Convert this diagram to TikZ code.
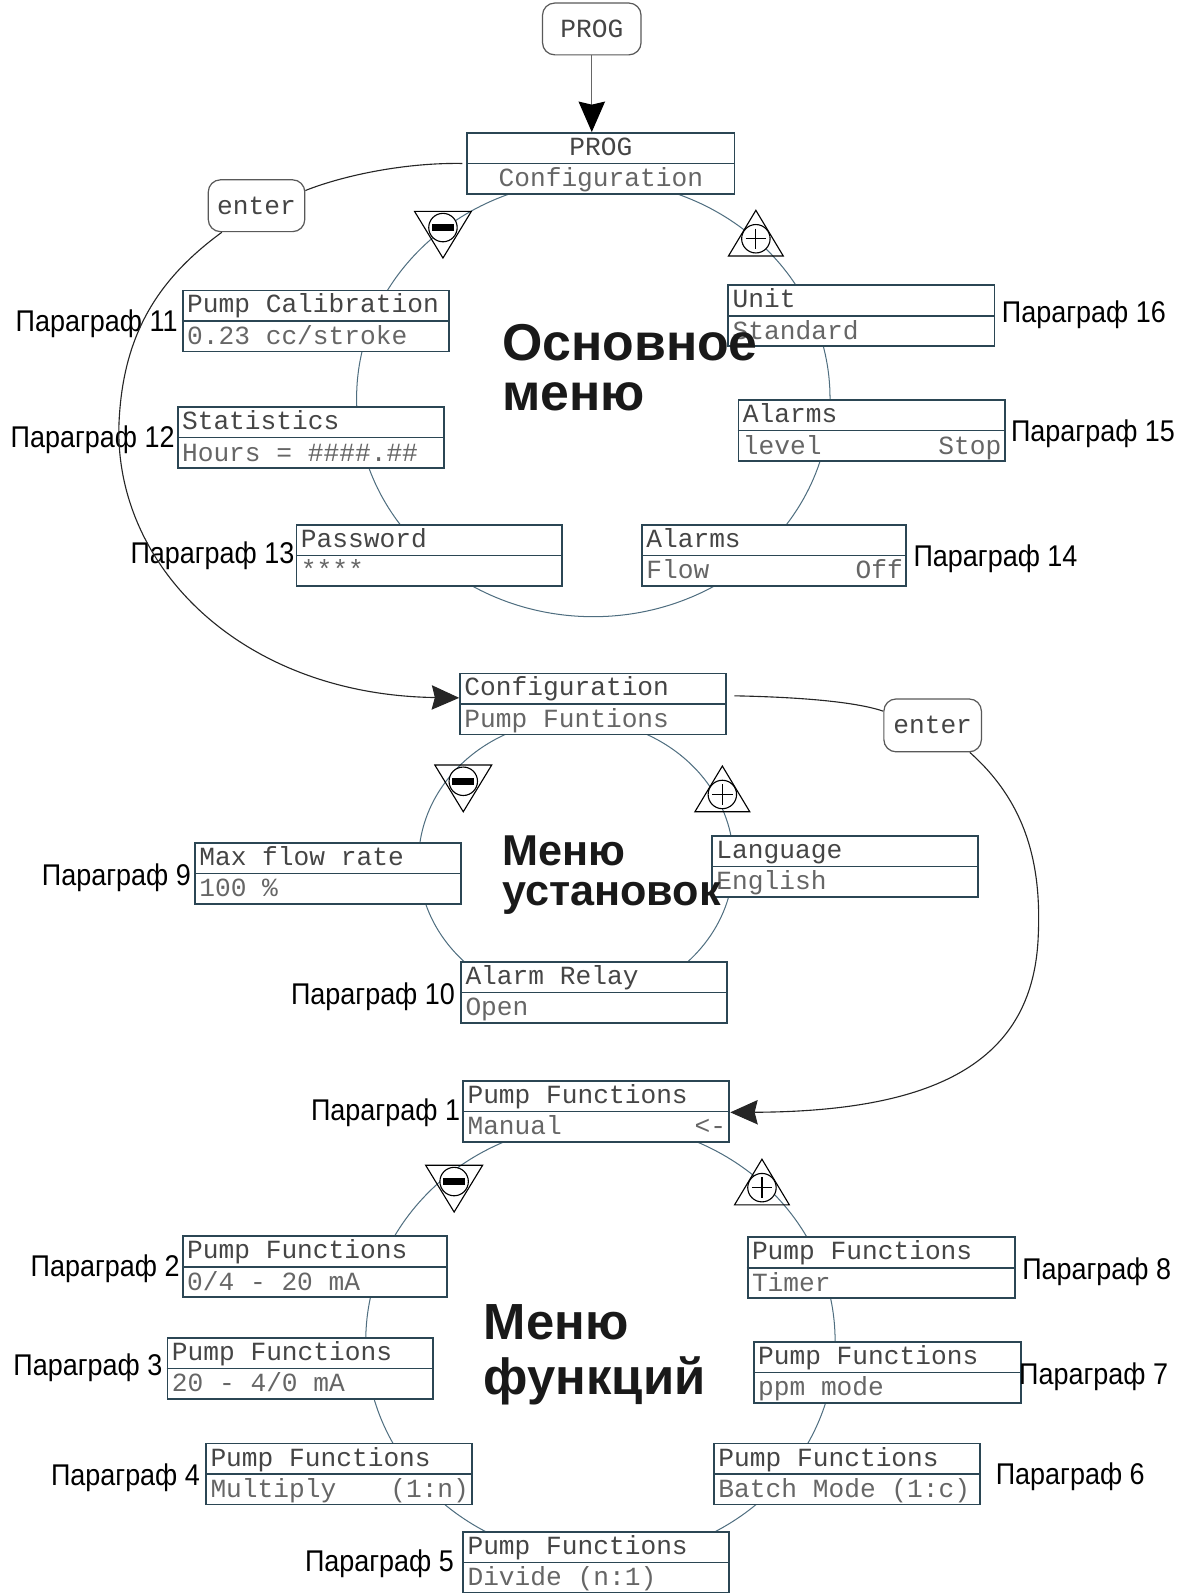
\documentclass[tikz,border=0pt]{standalone}
\usepackage{fontspec}
\setmainfont{Liberation Sans}
\newfontfamily\lcdfont{Liberation Mono}
\usetikzlibrary{arrows.meta,calc}
\definecolor{boxc}{HTML}{2B4654}
\definecolor{ringc}{HTML}{4F6E80}
\definecolor{txta}{HTML}{454545}
\definecolor{txtb}{HTML}{666666}
\tikzset{
  lcd/.style={draw=boxc, line width=1.8pt, fill=white, minimum height=60pt, inner sep=0pt, rectangle},
  lcddiv/.style={draw=boxc, line width=1.4pt},
  lcdtxt/.style={font=\lcdfont\fontsize{25.8}{26}\selectfont, inner sep=0pt},
  ring/.style={draw=ringc, line width=1pt},
  lbl/.style={font=\fontsize{29.5}{30}\selectfont, inner sep=0pt},
  bigtitle/.style={font=\bfseries\fontsize{51}{51}\selectfont, inner sep=0pt, text=black!90},
  midtitle/.style={font=\bfseries\fontsize{42.5}{43}\selectfont, inner sep=0pt, text=black!90},
  btmtitle/.style={font=\bfseries\fontsize{50}{50}\selectfont, inner sep=0pt, text=black!90},
  btn/.style={draw=black!65, line width=1.2pt, rounded corners=12pt, fill=white, inner sep=0pt,
    font=\lcdfont\fontsize{25.8}{26}\selectfont, text=txta},
  conn/.style={draw=black!85, line width=1.1pt},
  symline/.style={draw=black, line width=1.1pt},
  bigtip/.style={-{Stealth[length=27pt,width=24pt,inset=3pt]}}
}
\newcommand\lcdbox[7]{%
  \node[lcd, minimum width=#4pt, anchor=north west] (#1) at (#2,#3) {};
  \draw[lcddiv] (#1.west) -- (#1.east);
  \node[lcdtxt, text=txta, anchor=base west] at ($(#1.north west)+(5,23)$) {#5};
  \node[lcdtxt, text=txtb, anchor=base west] at ($(#1.west)+(5,23)$) {#6};
  \node[lcdtxt, text=txtb, anchor=base east] at ($(#1.east)+(-4,23)$) {#7};
}
\newcommand\minusbtn[3]{%
  \coordinate (#1) at (#2,#3);
  \draw[symline] ($(#1)+(-28,-16)$) -- ($(#1)+(28,-16)$) -- ($(#1)+(0,30)$) -- cycle;
  \draw[symline, fill=white] (#1) circle [radius=14pt];
  \fill[black] ($(#1)+(-11,-3.5)$) rectangle ($(#1)+(11,3.5)$);
}
\newcommand\plusbtn[3]{%
  \coordinate (#1) at (#2,#3);
  \draw[symline] ($(#1)+(0,-28)$) -- ($(#1)+(27,17)$) -- ($(#1)+(-27,17)$) -- cycle;
  \draw[symline, fill=white] (#1) circle [radius=14pt];
  \draw[symline] ($(#1)+(-10,0)$) -- ($(#1)+(10,0)$) ($(#1)+(0,-10)$) -- ($(#1)+(0,10)$);
}
\begin{document}
\begin{tikzpicture}[x=1pt,y=-1pt]
\useasboundingbox (0,0) rectangle (1166,1568);
% rings
\draw[ring] (584,392) ellipse [x radius=233pt, y radius=215pt];
\draw[ring] (567,848) ellipse [x radius=155pt, y radius=140pt];
\draw[ring] (591,1320) ellipse [x radius=231pt, y radius=215pt];
% +/- buttons
\minusbtn{m1}{436}{224}
\plusbtn{p1}{744}{235}
\minusbtn{m2}{456}{769}
\plusbtn{p2}{711}{782}
\minusbtn{m3}{447}{1163}
\plusbtn{p3}{750}{1169}
% top
\node[btn, minimum width=97pt, minimum height=51pt] (prog) at (582.5,28.5) {PROG};
\node[lcd, minimum width=263pt, anchor=north west] (box0) at (459,130) {};
\draw[lcddiv] (box0.west) -- (box0.east);
\node[lcdtxt, text=txta, anchor=base] at ($(box0.north)+(0,23)$) {PROG};
\node[lcdtxt, text=txtb, anchor=base] at ($(box0.center)+(0,23)$) {Configuration};
\node[btn, minimum width=95pt, minimum height=51pt] (enter1) at (252.5,202.5) {enter};
% menu 1
\lcdbox{pc}{179}{285}{262}{Pump Calibration}{0.23 cc/stroke}{}
\lcdbox{st}{174}{400}{262}{Statistics}{Hours = \#\#\#\#.\#\#}{}
\lcdbox{pw}{291}{516}{261}{Password}{****}{}
\lcdbox{af}{631}{516}{260}{Alarms}{Flow}{Off}
\lcdbox{al}{726}{393}{262}{Alarms}{level}{Stop}
\lcdbox{un}{716}{280}{262}{Unit}{Standard}{}
% menu 2
\lcdbox{cfg}{452}{662}{262}{Configuration}{Pump Funtions}{}
\node[btn, minimum width=96pt, minimum height=52pt] (enter2) at (918,714) {enter};
\lcdbox{mf}{191}{829}{262}{Max flow rate}{100 \%}{}
\lcdbox{lg}{700}{822}{262}{Language}{English}{}
\lcdbox{ar}{453}{946}{262}{Alarm Relay}{Open}{}
% menu 3
\lcdbox{pf1}{455}{1063}{262}{Pump Functions}{Manual}{<-}
\lcdbox{pf2}{179}{1216}{260}{Pump Functions}{0/4 - 20 mA}{}
\lcdbox{pf3}{164}{1316}{261}{Pump Functions}{20 - 4/0 mA}{}
\lcdbox{pf4}{202}{1420}{262}{Pump Functions}{Multiply}{(1:n)}
\lcdbox{pf5}{455}{1507}{262}{Pump Functions}{Divide (n:1)}{}
\lcdbox{pf6}{702}{1420}{262}{Pump Functions}{Batch Mode (1:c)}{}
\lcdbox{pf7}{741}{1320}{263}{Pump Functions}{ppm mode}{}
\lcdbox{pf8}{735}{1217}{263}{Pump Functions}{Timer}{}
% titles
\node[bigtitle, anchor=base west] (t1a) at (494,355) {Основное};
\node[bigtitle, anchor=base west] (t1b) at (494,404) {меню};
\node[midtitle, anchor=base west] (t2a) at (494,852) {Меню};
\node[midtitle, anchor=base west] (t2b) at (494,891) {установок};
\node[btmtitle, anchor=base west] (t3a) at (476,1318) {Меню};
\node[btmtitle, anchor=base west] (t3b) at (476,1373) {функций};
% labels
\node[lbl, anchor=base east] (l11) at (175,326) {\scalebox{0.9}[1]{Параграф 11}};
\node[lbl, anchor=base east] (l12) at (172,440) {\scalebox{0.9}[1]{Параграф 12}};
\node[lbl, anchor=base east] (l13) at (290,555) {\scalebox{0.9}[1]{Параграф 13}};
\node[lbl, anchor=base west] (l14) at (899,558) {\scalebox{0.9}[1]{Параграф 14}};
\node[lbl, anchor=base west] (l15) at (995,435) {\scalebox{0.9}[1]{Параграф 15}};
\node[lbl, anchor=base west] (l16) at (986,317) {\scalebox{0.9}[1]{Параграф 16}};
\node[lbl, anchor=base east] (l9) at (188,872) {\scalebox{0.9}[1]{Параграф 9}};
\node[lbl, anchor=base east] (l10) at (448,989) {\scalebox{0.9}[1]{Параграф 10}};
\node[lbl, anchor=base east] (l1) at (453,1103) {\scalebox{0.9}[1]{Параграф 1}};
\node[lbl, anchor=base east] (l2) at (177,1256) {\scalebox{0.9}[1]{Параграф 2}};
\node[lbl, anchor=base east] (l3) at (160,1354) {\scalebox{0.9}[1]{Параграф 3}};
\node[lbl, anchor=base east] (l4) at (197,1462) {\scalebox{0.9}[1]{Параграф 4}};
\node[lbl, anchor=base east] (l5) at (447,1547) {\scalebox{0.9}[1]{Параграф 5}};
\node[lbl, anchor=base west] (l6) at (980,1461) {\scalebox{0.9}[1]{Параграф 6}};
\node[lbl, anchor=base west] (l7) at (1003,1363) {\scalebox{0.9}[1]{Параграф 7}};
\node[lbl, anchor=base west] (l8) at (1006,1259) {\scalebox{0.9}[1]{Параграф 8}};
% connectors
\draw[draw=black!60, line width=1.2pt, -{Stealth[length=30pt,width=26pt,inset=3pt,color=black]}]
  (prog.south) -- (prog.south |- box0.north);
\draw[conn] ([xshift=-4pt]box0.west) .. controls (400,160) and (340,172) .. ($(enter1.east)+(0,-15)$);
\draw[conn, bigtip] ($(enter1.south west)+(14,0)$) .. controls (155,275) and (120,330) .. (117,420)
  .. controls (114,560) and (240,684) .. ($(cfg.west)+(0,-6)$);
\draw[conn] ($(cfg.east)+(7,-8)$) .. controls (780,686) and (840,690) .. ($(enter2.west)+(0,-14)$);
\draw[conn, bigtip] ($(enter2.south east)+(-12,0)$) .. controls (1010,790) and (1025,850) .. (1022,920)
  .. controls (1018,1040) and (930,1094) .. ($(pf1.east)+(0,1)$);
\end{tikzpicture}
\end{document}
